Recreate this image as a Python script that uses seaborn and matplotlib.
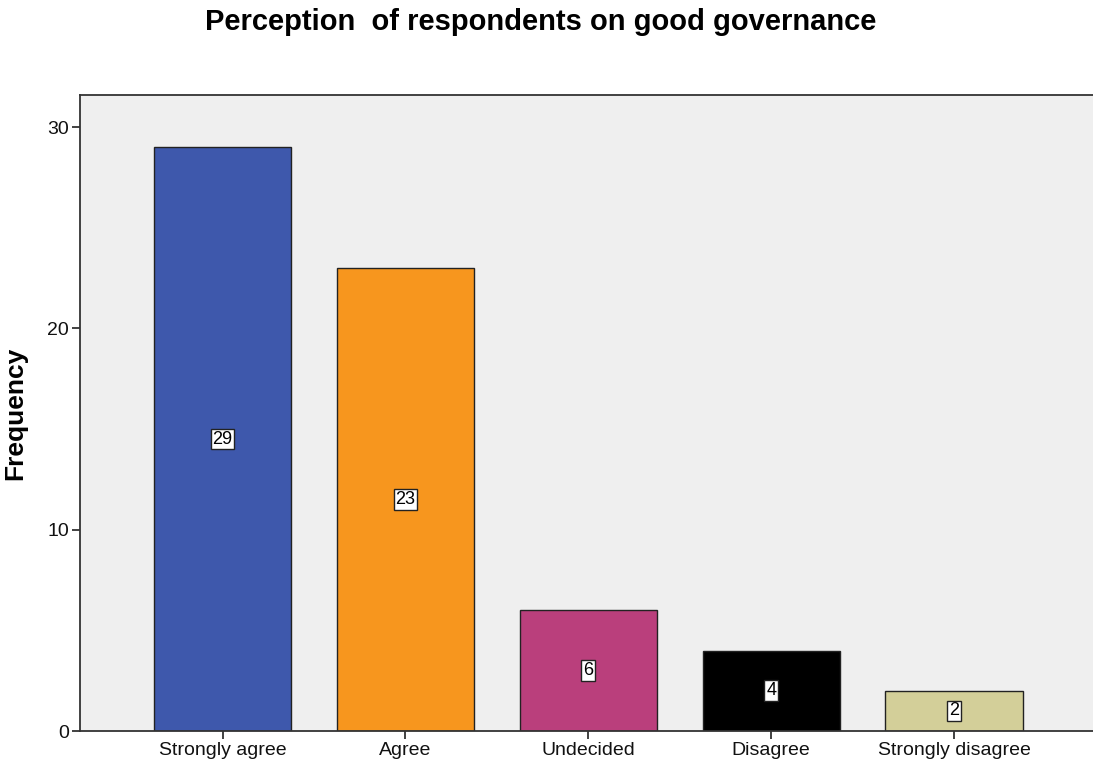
import matplotlib
matplotlib.use("Agg")
import matplotlib.pyplot as plt
import seaborn as sns
import pandas as pd

categories = ["Strongly agree", "Agree", "Undecided", "Disagree", "Strongly disagree"]
frequencies = [29, 23, 6, 4, 2]
bar_colors = ["#3E58AC", "#F7961E", "#BA3F7C", "#000000", "#D3CF99"]
y_ticks = [0, 10, 20, 30]

sns.set_style("white")
plt.rcParams["font.family"] = ["Liberation Sans", "DejaVu Sans"]

df = pd.DataFrame({"Response": categories, "Frequency": frequencies})

fig = plt.figure(figsize=(10.93, 7.69), dpi=100)
ax = fig.add_axes([0.0732, 0.0494, 0.9268, 0.8271])
ax.set_facecolor("#EFEFEF")

sns.barplot(data=df, x="Response", y="Frequency", hue="Response",
            palette=bar_colors, order=categories, hue_order=categories,
            width=0.75, edgecolor="#222222", linewidth=1.0, saturation=1,
            legend=False, ax=ax, zorder=2)

# value boxes at the middle of each bar
for i, v in enumerate(frequencies):
    ax.text(i, v / 2, str(v), ha="center", va="center", fontsize=13,
            color="black", zorder=5,
            bbox=dict(boxstyle="square,pad=0.1", facecolor="white",
                      edgecolor="#222222", linewidth=1.0))

ax.set_xlim(-0.78, 4.76)
ax.set_ylim(0, 31.6)
ax.set_yticks(y_ticks)
ax.set_yticklabels([str(t) for t in y_ticks])

for side in ["left", "top", "bottom"]:
    ax.spines[side].set_visible(True)
    ax.spines[side].set_color("#333333")
    ax.spines[side].set_linewidth(1.3)
ax.spines["right"].set_visible(False)

ax.tick_params(axis="both", which="major", direction="out", length=6,
               width=1.3, color="#333333", labelsize=14, labelcolor="#111111",
               left=True, bottom=True, pad=2)

ax.set_xlabel("")
ax.set_ylabel("Frequency", fontsize=19, fontweight="bold", labelpad=14,
              color="black")
fig.text(0.495, 0.971, "Perception  of respondents on good governance",
         ha="center", va="center", fontsize=21, fontweight="bold",
         color="black")

fig.savefig("out.png", dpi=100)
